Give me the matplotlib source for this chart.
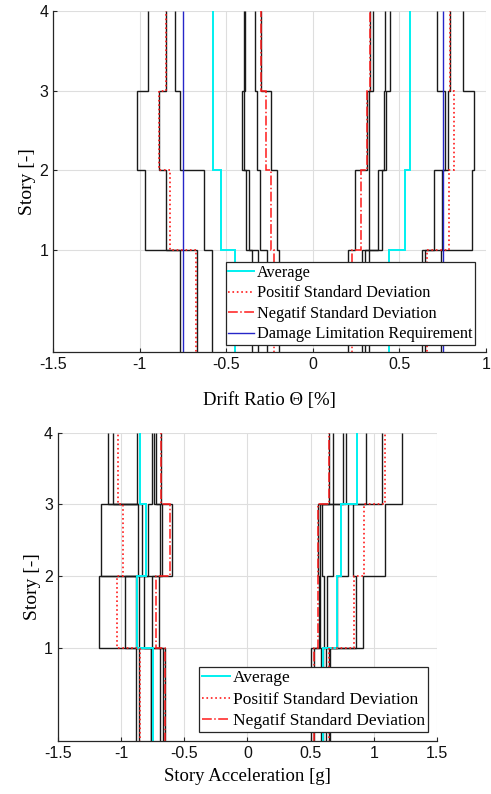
import matplotlib
matplotlib.use("Agg")
import matplotlib.pyplot as plt
from matplotlib.lines import Line2D
from matplotlib.ticker import FormatStrFormatter

plt.rcParams["axes.unicode_minus"] = False

# story edges: story k spans (k-1, k); story 1 runs down past the axis
story_edges = [-1, 1, 2, 3, 4]

# ---- drift ratio [%], one row per record, values for story 1..4
drift_neg = [
    [-0.769, -0.969, -1.013, -0.950],
    [-0.670, -0.850, -0.888, -0.850],
    [-0.585, -0.627, -0.767, -0.798],
    [-0.350, -0.387, -0.408, -0.397],
    [-0.317, -0.370, -0.395, -0.390],
    [-0.263, -0.305, -0.320, -0.335],
    [-0.195, -0.205, -0.239, -0.302],
]
drift_pos = [
    [0.200, 0.242, 0.315, 0.332],
    [0.285, 0.325, 0.325, 0.347],
    [0.300, 0.376, 0.410, 0.414],
    [0.325, 0.400, 0.425, 0.448],
    [0.630, 0.697, 0.760, 0.719],
    [0.740, 0.748, 0.780, 0.790],
    [0.645, 0.920, 0.930, 0.868],
]
drift_avg = [[-0.450, -0.530, -0.577, -0.577], [0.440, 0.534, 0.560, 0.560]]
drift_sd_pos = [[-0.677, -0.825, -0.888, -0.850], [0.660, 0.785, 0.815, 0.790]]
drift_sd_neg = [[-0.225, -0.240, -0.270, -0.302], [0.227, 0.277, 0.310, 0.328]]
damage_limit = 0.75

# ---- story acceleration [g]
acc_neg = [
    [-0.883, -1.172, -0.864, -1.102],
    [-0.860, -0.885, -1.162, -0.877],
    [-0.765, -0.972, -0.838, -1.067],
    [-0.760, -0.860, -0.790, -0.759],
    [-0.693, -0.815, -0.693, -0.741],
    [-0.667, -0.757, -0.680, -0.720],
    [-0.655, -0.700, -0.600, -0.684],
]
acc_pos = [
    [0.505, 0.570, 0.560, 0.648],
    [0.530, 0.575, 0.574, 0.675],
    [0.580, 0.606, 0.592, 0.759],
    [0.600, 0.632, 0.679, 0.780],
    [0.624, 0.705, 0.798, 0.938],
    [0.645, 0.860, 0.833, 1.062],
    [0.656, 0.912, 1.089, 1.221],
]
acc_avg = [[-0.750, -0.875, -0.804, -0.851], [0.598, 0.705, 0.738, 0.869]]
acc_sd_pos = [[-0.849, -1.035, -0.988, -1.022], [0.642, 0.840, 0.924, 1.087]]
acc_sd_neg = [[-0.651, -0.724, -0.610, -0.684], [0.530, 0.561, 0.561, 0.645]]

labels = ["Average", "Positif Standard Deviation", "Negatif Standard Deviation",
          "Damage Limitation Requirement"]

C_BLACK = "#1a1a1a"
C_AVG = "#00f0f0"
C_RED = "#ff1a1a"
C_BLUE = "#2626c8"
C_AX = "#262626"

SERIF = ["Liberation Serif", "DejaVu Serif"]
SANS = ["Liberation Sans", "DejaVu Sans"]


def stair(ax, vals, **kw):
    ax.stairs(vals, story_edges, orientation="horizontal", baseline=None, **kw)


def draw_panel(ax, records, avg, sd_pos, sd_neg, limit=None):
    for rec in records:
        stair(ax, rec, color=C_BLACK, linewidth=1.0)
    for side in range(2):
        stair(ax, avg[side], color=C_AVG, linewidth=1.4)
        stair(ax, sd_pos[side], color=C_RED, linewidth=1.2, linestyle=":")
        stair(ax, sd_neg[side], color=C_RED, linewidth=1.1, linestyle="-.")
    if limit is not None:
        for v in (-limit, limit):
            stair(ax, [v] * 4, color=C_BLUE, linewidth=1.0)


def style_axes(ax, xlim, ylim, xlabel, labelpad):
    ax.set_xlim(xlim)
    ax.set_ylim(ylim)
    ax.set_yticks([1, 2, 3, 4])
    ax.xaxis.set_major_formatter(FormatStrFormatter("%g"))
    ax.grid(True, color="#dedede", linewidth=0.8)
    ax.set_axisbelow(True)
    for s in ("top", "right"):
        ax.spines[s].set_visible(False)
    for s in ("left", "bottom"):
        ax.spines[s].set_color(C_AX)
        ax.spines[s].set_linewidth(0.9)
    ax.tick_params(direction="in", length=3, colors=C_AX, labelsize=11.5)
    for t in ax.get_xticklabels() + ax.get_yticklabels():
        t.set_family(SANS)
        t.set_color("#111111")
    ax.set_xlabel(xlabel, family=SERIF, fontsize=13.5, labelpad=labelpad)
    ax.set_ylabel("Story [-]", family=SERIF, fontsize=14, labelpad=2)


def handles(n):
    h = [Line2D([], [], color=C_AVG, linewidth=1.4),
         Line2D([], [], color=C_RED, linewidth=1.2, linestyle=":"),
         Line2D([], [], color=C_RED, linewidth=1.1, linestyle="-."),
         Line2D([], [], color=C_BLUE, linewidth=1.0)]
    return h[:n]


fig = plt.figure(figsize=(4.91, 7.94), dpi=100)

ax1 = fig.add_axes([0.108, 0.557, 0.882, 0.429])
draw_panel(ax1, drift_neg + drift_pos, drift_avg, drift_sd_pos, drift_sd_neg,
           limit=damage_limit)
style_axes(ax1, (-1.5, 1.0), (-0.28, 4), "Drift Ratio \u0398 [%]", 15)
leg1 = ax1.legend(handles(4), labels, loc="lower right", bbox_to_anchor=(0.975, 0.02),
                  borderaxespad=0, fancybox=False, framealpha=1, edgecolor=C_AX,
                  prop={"family": SERIF, "size": 11.7}, handlelength=1.6,
                  handletextpad=0.2, labelspacing=0.28, borderpad=0.15)
leg1.get_frame().set_linewidth(0.9)

ax2 = fig.add_axes([0.118, 0.067, 0.772, 0.388])
draw_panel(ax2, acc_neg + acc_pos, acc_avg, acc_sd_pos, acc_sd_neg)
style_axes(ax2, (-1.5, 1.5), (-0.3, 4), "Story Acceleration [g]", 5)
leg2 = ax2.legend(handles(3), labels[:3], loc="lower right", bbox_to_anchor=(0.976, 0.03),
                  borderaxespad=0, fancybox=False, framealpha=1, edgecolor=C_AX,
                  prop={"family": SERIF, "size": 12.5}, handlelength=1.6,
                  handletextpad=0.2, labelspacing=0.3, borderpad=0.15)
leg2.get_frame().set_linewidth(0.9)

fig.savefig("out.png", dpi=100)
